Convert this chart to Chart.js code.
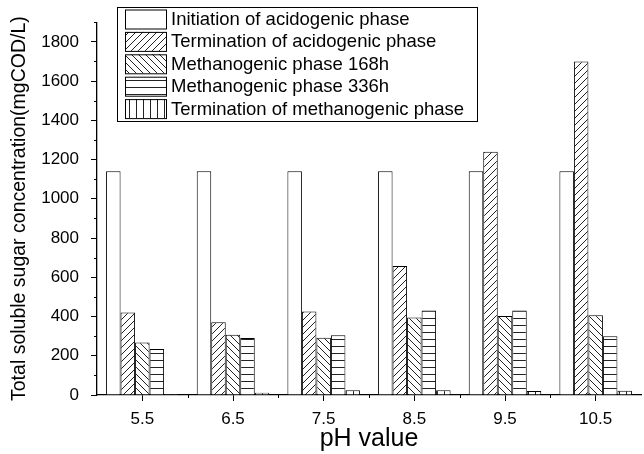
<!DOCTYPE html>
<html>
<head>
<meta charset="utf-8">
<script src="https://cdn.jsdelivr.net/npm/chart.js@4"></script>
<style>
  html, body { margin: 0; padding: 0; background: #fff; }
  #sugar-chart { display: block; }
</style>
</head>
<body>
<canvas id="sugar-chart" width="644" height="454"></canvas>
<script>
const phLabels = ['5.5', '6.5', '7.5', '8.5', '9.5', '10.5'];
const initAcid = [1140, 1140, 1140, 1140, 1140, 1140];
const termAcid = [420, 371, 425, 658, 1240, 1700];
const meth168h = [268, 307, 292, 395, 402, 407];
const meth336h = [235, 290, 305, 431, 431, 300];
const termMeth = [5, 12, 24, 24, 20, 22];

const FONT = "'Liberation Sans', Arial, sans-serif";

// hatch fills, same as the old plotting package used
function hatch(kind) {
    const s = 7;
    const c = document.createElement('canvas');
    c.width = s;
    c.height = s;
    const g = c.getContext('2d');
    g.fillStyle = '#fff';
    g.fillRect(0, 0, s, s);
    g.strokeStyle = '#222';
    g.lineWidth = 1;
    g.beginPath();
    if (kind === 'fwd') {
        g.moveTo(-1, s + 1); g.lineTo(s + 1, -1);
        g.moveTo(-1, 1); g.lineTo(1, -1);
        g.moveTo(s - 1, s + 1); g.lineTo(s + 1, s - 1);
    } else if (kind === 'back') {
        g.moveTo(-1, -1); g.lineTo(s + 1, s + 1);
        g.moveTo(s - 1, -1); g.lineTo(s + 1, 1);
        g.moveTo(-1, s - 1); g.lineTo(1, s + 1);
    } else if (kind === 'horiz') {
        g.moveTo(0, 3.5); g.lineTo(s, 3.5);
    } else if (kind === 'vert') {
        g.moveTo(3.5, 0); g.lineTo(3.5, s);
    }
    g.stroke();
    return g.createPattern(c, 'repeat');
}

const fills = ['#fff', hatch('fwd'), hatch('back'), hatch('horiz'), hatch('vert')];

// boxed legend in the upper left of the plot
const boxLegend = {
    id: 'boxLegend',
    afterDraw(chart) {
        const ctx = chart.ctx;
        const left = 117, top = 7, right = 477, bottom = 121;
        const rowH = 22.4;
        ctx.save();
        ctx.fillStyle = '#fff';
        ctx.fillRect(left, top, right - left, bottom - top);
        ctx.strokeStyle = '#000';
        ctx.lineWidth = 1;
        ctx.strokeRect(left + 0.5, top + 0.5, right - left, bottom - top);
        ctx.font = '18.5px ' + FONT;
        ctx.textBaseline = 'middle';
        chart.data.datasets.forEach((ds, i) => {
            const y = top + 2.5 + i * rowH;
            ctx.fillStyle = ds.backgroundColor;
            ctx.fillRect(125, y, 41, 19);
            ctx.strokeStyle = '#000';
            ctx.strokeRect(125.5, y + 0.5, 41, 19);
            ctx.fillStyle = '#000';
            ctx.fillText(ds.label, 171, y + 10.5);
        });
        ctx.restore();
    }
};

// short minor ticks between the labelled ones
const minorTicks = {
    id: 'minorTicks',
    afterDraw(chart) {
        const ctx = chart.ctx;
        const x = chart.scales.x, y = chart.scales.y;
        ctx.save();
        ctx.strokeStyle = '#000';
        ctx.lineWidth = 1;
        ctx.beginPath();
        for (let v = 100; v <= 1900; v += 200) {
            const py = Math.round(y.getPixelForValue(v)) + 0.5;
            ctx.moveTo(x.left - 3, py);
            ctx.lineTo(x.left, py);
        }
        for (let i = 0; i < phLabels.length - 1; i++) {
            const px = Math.round((x.getPixelForValue(i) + x.getPixelForValue(i + 1)) / 2) + 0.5;
            ctx.moveTo(px, y.bottom);
            ctx.lineTo(px, y.bottom + 3);
        }
        ctx.stroke();
        ctx.restore();
    }
};

const names = [
    'Initiation of acidogenic phase',
    'Termination of acidogenic phase',
    'Methanogenic phase 168h',
    'Methanogenic phase 336h',
    'Termination of methanogenic phase'
];
const series = [initAcid, termAcid, meth168h, meth336h, termMeth];

new Chart(document.getElementById('sugar-chart'), {
    type: 'bar',
    data: {
        labels: phLabels,
        datasets: series.map((vals, i) => ({
            label: names[i],
            data: vals,
            backgroundColor: fills[i],
            borderColor: '#000',
            borderWidth: 1,
            categoryPercentage: 0.8,
            barPercentage: 1.0
        }))
    },
    options: {
        responsive: false,
        animation: false,
        devicePixelRatio: 1,
        layout: { padding: { top: 20, right: 3, left: 0, bottom: 0 } },
        plugins: {
            legend: { display: false },
            tooltip: { enabled: false }
        },
        scales: {
            x: {
                offset: true,
                grid: { drawOnChartArea: false, offset: false, tickLength: 6, color: '#000' },
                border: { color: '#000', width: 1.3 },
                ticks: { color: '#000', font: { family: FONT, size: 17 }, padding: 8, maxRotation: 0 },
                title: {
                    display: true,
                    text: 'pH value',
                    color: '#000',
                    font: { family: FONT, size: 25 },
                    padding: { top: 0, bottom: 0 }
                },
                afterFit(scale) { scale.height = 59; }
            },
            y: {
                min: 0,
                max: 1900,
                grid: { drawOnChartArea: false, tickLength: 6, color: '#000' },
                border: { color: '#000', width: 1.3 },
                ticks: {
                    stepSize: 200,
                    includeBounds: false,
                    color: '#000',
                    font: { family: FONT, size: 17 },
                    padding: 12,
                    callback: v => String(v)
                },
                title: {
                    display: true,
                    text: 'Total soluble sugar concentration(mgCOD/L)',
                    color: '#000',
                    font: { family: FONT, size: 19.5 },
                    padding: { top: 8, bottom: 0 }
                },
                afterFit(scale) { scale.width = 97; }
            }
        }
    },
    plugins: [minorTicks, boxLegend]
});
</script>
</body>
</html>
